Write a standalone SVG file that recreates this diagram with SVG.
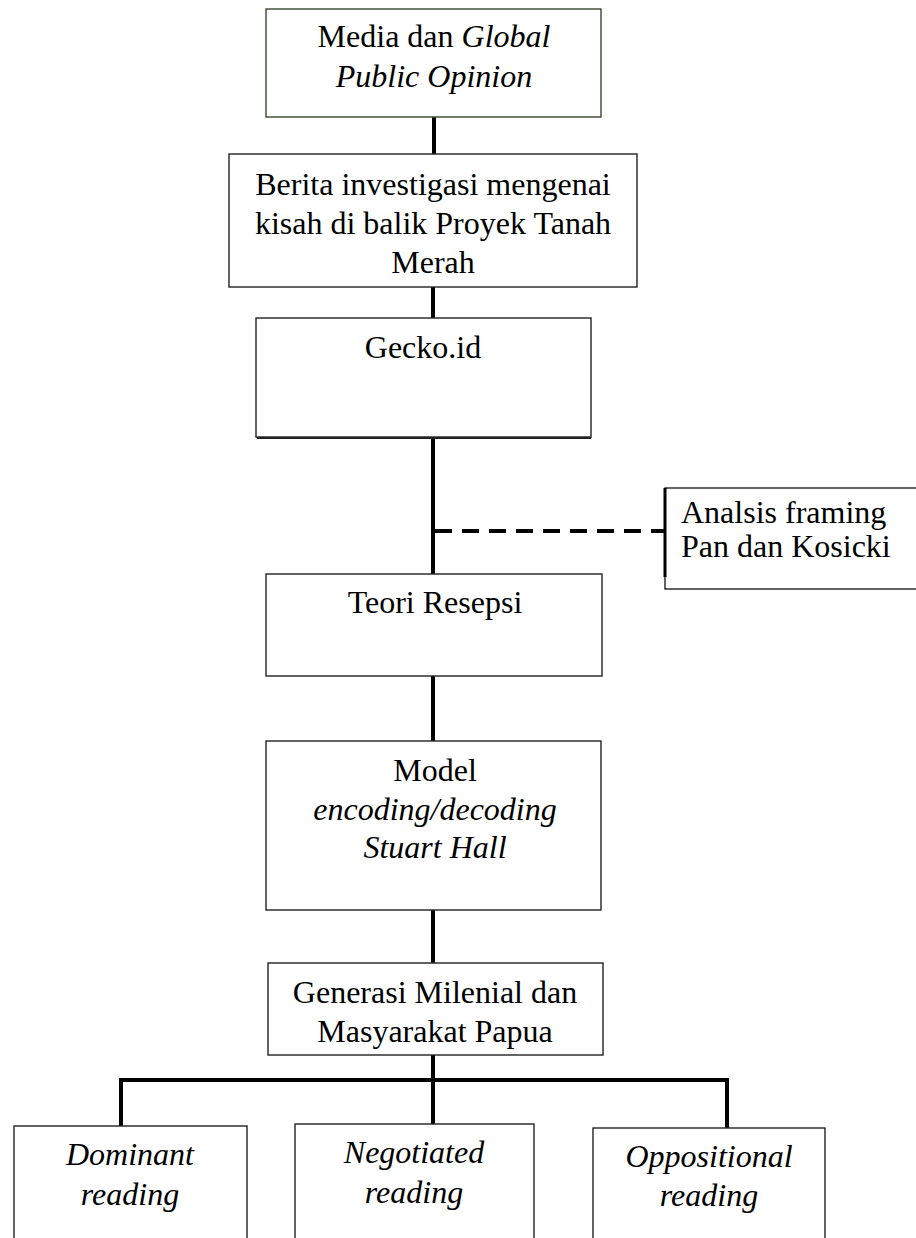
<svg xmlns="http://www.w3.org/2000/svg" width="916" height="1238" viewBox="0 0 916 1238">
<style>
.box{fill:#fff;stroke:#222;stroke-width:1.4}
.t{font-family:"Liberation Serif","Times New Roman",serif;font-size:32px;fill:#000;text-anchor:middle}
.i{font-style:italic}
.c{stroke:#000;stroke-width:4;fill:none}
.d{stroke:#000;stroke-width:4;fill:none;stroke-dasharray:17 10}
</style>
<rect width="916" height="1238" fill="#fff"/>
<g id="connectors">
<line class="c" x1="434" y1="117" x2="434" y2="154"/>
<line class="c" x1="433" y1="287" x2="433" y2="318"/>
<line class="c" x1="433" y1="437" x2="433" y2="574"/>
<line class="d" x1="435" y1="531" x2="665" y2="531"/>
<line class="c" x1="433" y1="676" x2="433" y2="741"/>
<line class="c" x1="433" y1="910" x2="433" y2="963"/>
<line class="c" x1="433" y1="1055" x2="433" y2="1124"/>
<polyline class="c" points="121,1126 121,1080 727,1080 727,1128"/>
</g>
<g id="media">
<rect class="box" x="266" y="9" width="335" height="108" style="stroke:#3a4630"/>
<text class="t" x="434" y="47">Media dan <tspan class="i">Global</tspan></text>
<text class="t i" x="434" y="87">Public Opinion</text>
</g>
<g id="berita">
<rect class="box" x="229" y="154" width="408" height="133"/>
<text class="t" x="433" y="195">Berita investigasi mengenai</text>
<text class="t" x="433" y="234">kisah di balik Proyek Tanah</text>
<text class="t" x="433" y="273">Merah</text>
</g>
<g id="gecko">
<rect class="box" x="256" y="318" width="335" height="119"/>
<line x1="257" y1="438" x2="591" y2="438" stroke="#222" stroke-width="2"/>
<text class="t" x="423" y="358">Gecko.id</text>
</g>
<g id="analisis">
<rect class="box" x="665" y="488" width="260" height="101"/>
<line x1="665" y1="488" x2="665" y2="577" stroke="#000" stroke-width="3"/>
<text class="t" x="681" y="523" style="text-anchor:start">Analsis framing</text>
<text class="t" x="681" y="557" style="text-anchor:start">Pan dan Kosicki</text>
</g>
<g id="teori">
<rect class="box" x="266" y="574" width="336" height="102"/>
<text class="t" x="435" y="613">Teori Resepsi</text>
</g>
<g id="model">
<rect class="box" x="266" y="741" width="335" height="169"/>
<text class="t" x="435" y="781">Model</text>
<text class="t i" x="435" y="820">encoding/decoding</text>
<text class="t i" x="435" y="858">Stuart Hall</text>
</g>
<g id="generasi">
<rect class="box" x="268" y="963" width="335" height="92"/>
<text class="t" x="435" y="1003">Generasi Milenial dan</text>
<text class="t" x="435" y="1042">Masyarakat Papua</text>
</g>
<g id="dominant">
<rect class="box" x="14" y="1126" width="233" height="130"/>
<text class="t i" x="130" y="1165">Dominant</text>
<text class="t i" x="130" y="1205">reading</text>
</g>
<g id="negotiated">
<rect class="box" x="295" y="1124" width="239" height="130"/>
<text class="t i" x="414" y="1163">Negotiated</text>
<text class="t i" x="414" y="1203">reading</text>
</g>
<g id="oppositional">
<rect class="box" x="593" y="1128" width="232" height="130"/>
<text class="t i" x="709" y="1167">Oppositional</text>
<text class="t i" x="709" y="1206">reading</text>
</g>
</svg>
